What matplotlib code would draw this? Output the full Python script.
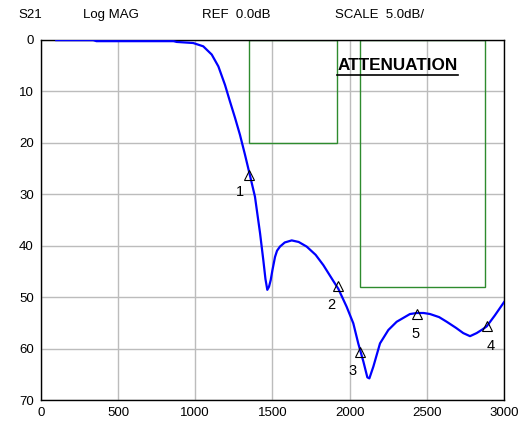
import matplotlib.pyplot as plt
from matplotlib.lines import Line2D
from matplotlib.patches import Rectangle

plt.rcParams['font.family'] = ['Liberation Sans', 'DejaVu Sans']

# S21 trace (MHz, dB attenuation)
freq = [100, 200, 340, 360, 600, 860, 880, 987, 1052, 1107, 1150, 1193, 1225,
        1258, 1290, 1322, 1350, 1387, 1420, 1441, 1455, 1467, 1478, 1489, 1500,
        1517, 1530, 1549, 1580, 1625, 1670, 1722, 1780, 1830, 1895, 1927, 1981,
        2024, 2056, 2089, 2115, 2128, 2154, 2197, 2251, 2305, 2391, 2435, 2480,
        2521, 2580, 2629, 2690, 2736, 2780, 2823, 2860, 2888, 2940, 3000]
atten = [0.1, 0.1, 0.1, 0.3, 0.3, 0.3, 0.45, 0.66, 1.3, 2.9, 5.2, 8.8, 12.0,
         15.2, 18.5, 22.3, 25.8, 30.5, 37.6, 42.8, 46.5, 48.6, 48.0, 46.7, 44.8,
         42.2, 41.0, 40.2, 39.4, 39.0, 39.3, 40.2, 41.8, 43.8, 46.9, 48.4, 51.9,
         55.1, 59.0, 62.5, 65.6, 65.8, 63.5, 59.0, 56.4, 54.8, 53.3, 53.1, 53.1,
         53.3, 53.9, 54.8, 56.0, 57.0, 57.6, 57.0, 56.3, 55.7, 53.6, 51.0]

# markers
mk_freq = [1350, 1927, 2067, 2888, 2435]
mk_att = [26.3, 47.8, 60.6, 55.7, 53.2]
mk_lbl = ['1', '2', '3', '4', '5']
mk_off = [(-7, -12), (-5, -14), (-5, -14), (3, -14), (-1, -15)]

# attenuation limit boxes: (start, stop, level)
limits = [(1350, 1920, 20), (2070, 2880, 48)]

fig = plt.figure(figsize=(5.2, 4.26), dpi=100)
ax = fig.add_axes([0.0785, 0.061, 0.8907, 0.846])

ax.set_xlim(0, 3000)
ax.set_ylim(70, 0)
ax.set_xticks(range(0, 3001, 500))
ax.set_yticks(range(0, 71, 10))
ax.tick_params(length=0, labelsize=9.5, pad=5)
ax.grid(True, color='#bcbcbc', linewidth=1)
ax.set_axisbelow(True)
for s in ax.spines.values():
    s.set_linewidth(1)

for f0, f1, lvl in limits:
    ax.add_patch(Rectangle((f0, 0), f1 - f0, lvl, fill=False,
                           edgecolor='#2e8b2e', linewidth=1, zorder=2))

ax.plot(freq, atten, color='#0000ff', linewidth=1.6, zorder=3)

ax.plot(mk_freq, mk_att, linestyle='none', marker='^', markersize=6.5,
        markerfacecolor='none', markeredgecolor='black', markeredgewidth=0.8, zorder=4)
for f, a, t, off in zip(mk_freq, mk_att, mk_lbl, mk_off):
    ax.annotate(t, (f, a), xytext=off, textcoords='offset points',
                ha='center', va='center', fontsize=10.5)

fig.text(397.5 / 520, 1 - 66 / 426, 'ATTENUATION', ha='center', va='center',
         fontsize=12.3, fontweight='bold')
fig.add_artist(Line2D([337 / 520, 458 / 520], [1 - 74.5 / 426, 1 - 74.5 / 426],
                      color='black', linewidth=1.2))

hy = 1 - 15 / 426
fig.text(18 / 520, hy, 'S21', fontsize=9.5, va='center')
fig.text(83 / 520, hy, 'Log MAG', fontsize=9.5, va='center')
fig.text(202 / 520, hy, 'REF  0.0dB', fontsize=9.5, va='center')
fig.text(335 / 520, hy, 'SCALE  5.0dB/', fontsize=9.5, va='center')

fig.savefig('out.png', dpi=100)
